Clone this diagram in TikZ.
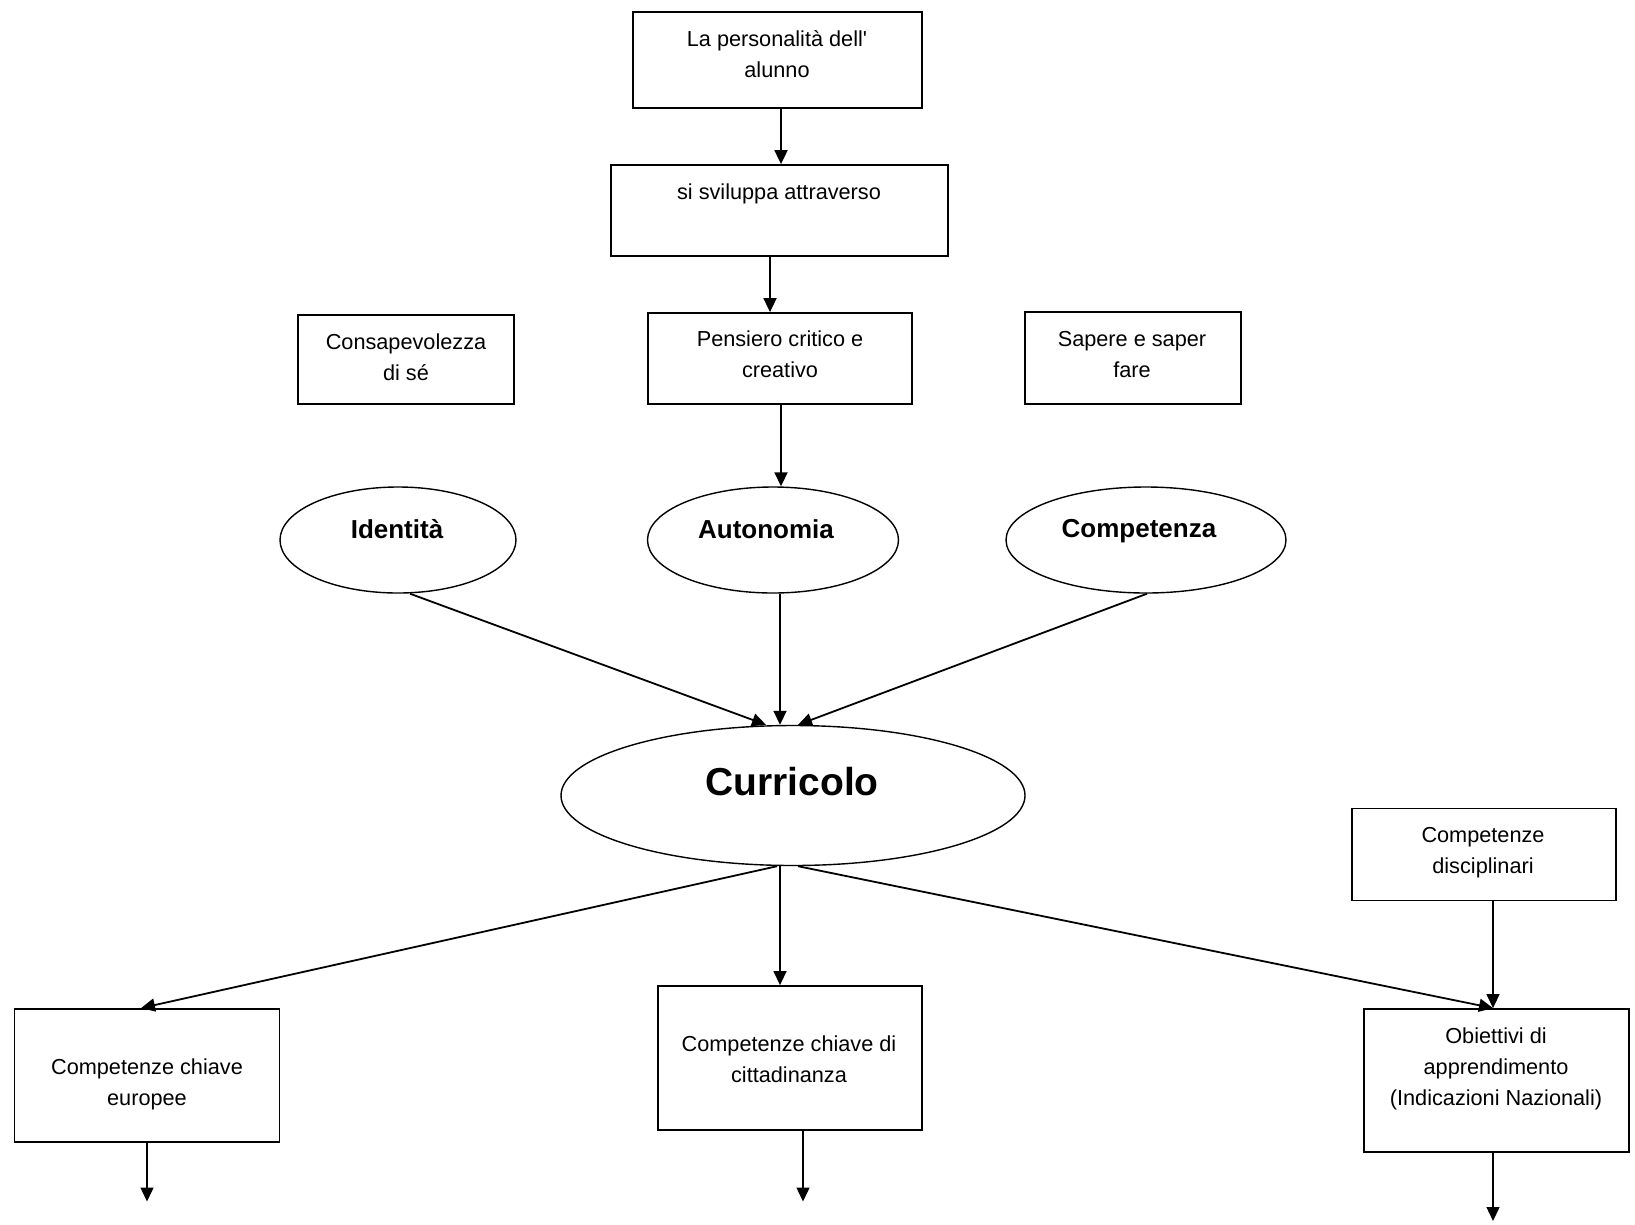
\documentclass[tikz,border=0pt]{standalone}
\usepackage{fontspec}
\setmainfont{Liberation Sans}[Ligatures=TeXOff]
\usetikzlibrary{shapes.geometric,arrows.meta}
\begin{document}
\begin{tikzpicture}[x=1pt,y=-1pt,
  box/.style 2 args={draw,line width=1.8pt,inner sep=0pt,minimum width=#1pt,minimum height=#2pt},
  ell/.style 2 args={ellipse,draw,line width=1.4pt,inner sep=0pt,minimum width=#1pt,minimum height=#2pt},
  txt/.style={align=center,font=\fontsize{21.7}{31}\selectfont,inner sep=0pt},
  btxt/.style={font=\fontsize{26}{31}\selectfont\bfseries,inner sep=0pt},
  arr/.style={line width=1.8pt,-{Triangle[length=14pt,width=13pt]}},
  arrthin/.style={line width=1.4pt,-{Triangle[length=14pt,width=13pt]}}]
\useasboundingbox (0,0) rectangle (1635,1224);
% boxes
\node[box={289}{96}] (b1) at (777.5,60) {};
\node[box={337}{91}] (b2) at (779.5,210.5) {};
\node[box={264}{91}] (b3) at (780,358.5) {};
\node[box={216}{89}] (bc) at (406,359.5) {};
\node[box={216}{92}] (bs) at (1133,358) {};
\node[box={264}{92}] (bd) at (1484,854.5) {};
\node[box={265}{133}] (be) at (147,1075.5) {};
\node[box={264}{144}] (bk) at (790,1058) {};
\node[box={265}{143}] (bo) at (1496.5,1080.5) {};
% ellipses
\node[ell={236}{106}] (eid) at (398,540) {};
\node[ell={251}{106}] (eau) at (773,540) {};
\node[ell={280}{106}] (eco) at (1146,540) {};
\node[ell={464}{140}] (ecu) at (793,795.5) {};
% texts
\node[txt] (t1) at (777,54) {La personalità dell'\\alunno};
\node[txt] (t2) at (779,194) {si sviluppa attraverso};
\node[txt] (t3) at (406,357) {Consapevolezza\\di sé};
\node[txt] (t4) at (780,354) {Pensiero critico e\\creativo};
\node[txt] (t5) at (1132,354.5) {Sapere e saper\\fare};
\node[btxt] (t6) at (397,529) {Identità};
\node[btxt] (t7) at (766,529) {Autonomia};
\node[btxt] (t8) at (1139,531) {Competenza};
\node[font=\fontsize{39}{44}\selectfont\bfseries,inner sep=0pt] (t9) at (792,782) {Curricolo};
\node[txt] (t10) at (1483,853) {Competenze\\disciplinari};
\node[txt] (t11) at (147,1084.5) {Competenze chiave\\europee};
\node[txt] (t12) at (789,1059.5) {Competenze chiave di\\cittadinanza};
\node[txt] (t13) at (1496,1069) {Obiettivi di\\apprendimento\\(Indicazioni Nazionali)};
% free ends
\coordinate (fe) at (147,1201.5);
\coordinate (fk) at (803,1201.5);
\coordinate (fo) at (1493,1221);
% connectors
\draw[arr] ([xshift=3.5pt]b1.south) -- ([xshift=1.5pt]b2.north);
\draw[arr] ([xshift=-9.5pt]b2.south) -- ([xshift=-10pt]b3.north);
\draw[arr] ([xshift=1pt]b3.south) -- ([xshift=8pt]eau.north);
\draw[arr] ([xshift=12pt]eid.south) -- ([xshift=-27pt]ecu.north);
\draw[arr] ([xshift=7pt]eau.south) -- ([xshift=-13pt]ecu.north);
\draw[arr] ([xshift=1pt]eco.south) -- ([xshift=5pt]ecu.north);
\draw[arr] ([xshift=-16pt]ecu.south) -- ([xshift=-6pt]be.north);
\draw[arrthin] ([xshift=-13pt]ecu.south) -- ([xshift=-10pt]bk.north);
\draw[arr] ([xshift=5pt]ecu.south) -- ([xshift=-3.5pt]bo.north);
\draw[arrthin] ([xshift=9pt]bd.south) -- ([xshift=-3.5pt]bo.north);
\draw[arrthin] (be.south) -- (fe);
\draw[arrthin] ([xshift=13pt]bk.south) -- (fk);
\draw[arrthin] ([xshift=-3.5pt]bo.south) -- (fo);
\end{tikzpicture}
\end{document}
